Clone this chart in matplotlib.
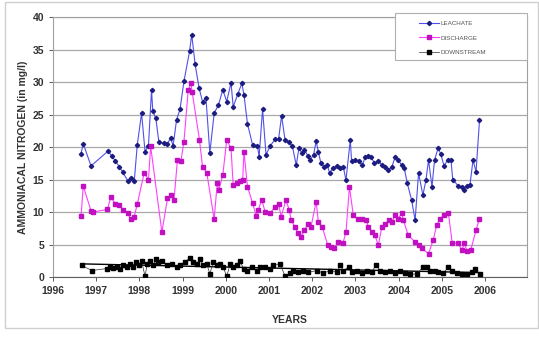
import numpy as np
import matplotlib
matplotlib.use('Agg')
import matplotlib.pyplot as plt
from matplotlib.patches import Rectangle

plt.rcParams['font.family'] = ['Liberation Sans', 'DejaVu Sans']

# leachate (decimal year, mg/l)
leach_yr = [1996.65, 1996.70, 1996.88, 1997.28, 1997.36, 1997.44, 1997.53, 1997.61, 1997.73, 1997.81,
            1997.88, 1997.95, 1998.05, 1998.13, 1998.21, 1998.28, 1998.31, 1998.38, 1998.45, 1998.57,
            1998.65, 1998.72, 1998.78, 1998.86, 1998.94, 1999.03, 1999.16, 1999.21, 1999.29, 1999.38,
            1999.46, 1999.54, 1999.63, 1999.73, 1999.83, 1999.93, 2000.02, 2000.12, 2000.17, 2000.28,
            2000.37, 2000.42, 2000.50, 2000.62, 2000.73, 2000.77, 2000.85, 2000.93, 2001.02, 2001.14,
            2001.22, 2001.29, 2001.37, 2001.46, 2001.54, 2001.63, 2001.69, 2001.76, 2001.82, 2001.90,
            2001.95, 2002.03, 2002.09, 2002.14, 2002.20, 2002.28, 2002.35, 2002.40, 2002.47, 2002.57,
            2002.64, 2002.72, 2002.78, 2002.88, 2002.91, 2002.99, 2003.08, 2003.16, 2003.22, 2003.30,
            2003.36, 2003.44, 2003.53, 2003.62, 2003.69, 2003.76, 2003.84, 2003.92, 2003.99, 2004.07,
            2004.13, 2004.20, 2004.30, 2004.38, 2004.46, 2004.56, 2004.63, 2004.69, 2004.77, 2004.83,
            2004.91, 2004.97, 2005.05, 2005.13, 2005.21, 2005.25, 2005.38, 2005.46, 2005.51, 2005.58,
            2005.65, 2005.72, 2005.79, 2005.87]
leach_val = [19.0, 20.5, 17.1, 19.4, 18.6, 17.9, 17.0, 16.2, 14.8, 15.2,
             14.7, 20.3, 25.2, 19.3, 20.2, 28.8, 25.5, 24.4, 20.8, 20.6,
             20.5, 21.4, 20.2, 24.2, 25.8, 30.1, 34.7, 37.3, 32.7, 29.1,
             27.0, 27.5, 19.1, 25.2, 26.5, 28.8, 27.0, 29.9, 26.2, 28.2,
             29.8, 28.0, 23.6, 20.3, 20.2, 18.5, 25.8, 18.8, 20.1, 21.2,
             21.2, 24.8, 21.1, 20.8, 20.1, 17.2, 19.8, 19.1, 19.6, 18.6,
             18.0, 18.8, 20.9, 19.3, 17.5, 16.9, 17.2, 16.0, 16.7, 17.1,
             16.7, 16.9, 14.9, 21.1, 17.8, 18.0, 17.8, 17.2, 18.4, 18.6,
             18.5, 17.5, 17.8, 17.2, 16.9, 16.5, 16.9, 18.5, 18.0, 17.2,
             16.7, 14.4, 11.8, 8.75, 16.0, 12.6, 14.9, 18.0, 13.9, 18.0,
             19.8, 19.0, 17.1, 18.0, 18.0, 15.0, 14.0, 13.8, 13.4, 14.0,
             14.2, 18.0, 16.2, 24.1]

# discharge
disch_yr = [1996.65, 1996.70, 1996.88, 1996.93, 1997.26, 1997.34, 1997.44, 1997.53, 1997.63, 1997.73,
            1997.80, 1997.88, 1997.95, 1998.11, 1998.21, 1998.26, 1998.52, 1998.65, 1998.73, 1998.80,
            1998.88, 1998.96, 1999.03, 1999.13, 1999.19, 1999.22, 1999.39, 1999.46, 1999.56, 1999.73,
            1999.80, 1999.84, 1999.93, 2000.02, 2000.12, 2000.17, 2000.25, 2000.33, 2000.39, 2000.42,
            2000.50, 2000.62, 2000.70, 2000.75, 2000.83, 2000.91, 2001.02, 2001.14, 2001.22, 2001.28,
            2001.39, 2001.47, 2001.51, 2001.60, 2001.66, 2001.74, 2001.82, 2001.90, 2001.97, 2002.09,
            2002.14, 2002.23, 2002.36, 2002.44, 2002.51, 2002.59, 2002.71, 2002.78, 2002.86, 2002.95,
            2003.05, 2003.16, 2003.25, 2003.30, 2003.39, 2003.45, 2003.53, 2003.61, 2003.69, 2003.78,
            2003.84, 2003.92, 2003.99, 2004.07, 2004.11, 2004.22, 2004.38, 2004.46, 2004.53, 2004.69,
            2004.80, 2004.88, 2004.96, 2005.06, 2005.15, 2005.24, 2005.38, 2005.46, 2005.52, 2005.58,
            2005.67, 2005.79, 2005.87]
disch_val = [9.4, 14.0, 10.2, 10.0, 10.4, 12.3, 11.3, 11.1, 10.3, 9.8,
             8.9, 9.3, 11.2, 16.0, 15.0, 20.1, 6.9, 12.1, 12.6, 11.8,
             18.0, 17.8, 20.8, 28.8, 29.8, 28.5, 21.1, 17.0, 16.0, 8.9,
             14.4, 13.4, 15.7, 21.1, 19.8, 14.2, 14.4, 14.7, 14.9, 19.3,
             13.9, 11.4, 9.4, 10.3, 11.9, 10.0, 9.8, 10.8, 11.3, 9.3,
             11.8, 10.3, 8.75, 7.7, 6.7, 6.2, 7.2, 8.2, 7.7, 11.6,
             8.5, 7.7, 4.9, 4.6, 4.4, 5.4, 5.2, 6.9, 13.9, 9.5,
             9.0, 8.9, 8.75, 7.7, 6.9, 6.4, 4.9, 7.7, 8.2, 8.75,
             8.5, 9.5, 9.0, 9.8, 8.75, 6.4, 5.4, 4.9, 4.4, 3.6,
             5.7, 8.0, 9.0, 9.5, 9.8, 5.2, 5.2, 4.1, 5.2, 4.0,
             4.2, 7.2, 9.0]

# downstream
down_yr = [1996.66, 1996.90, 1997.24, 1997.32, 1997.40, 1997.47, 1997.55, 1997.63, 1997.71, 1997.78,
           1997.86, 1997.92, 1998.00, 1998.05, 1998.13, 1998.18, 1998.25, 1998.32, 1998.38, 1998.44,
           1998.52, 1998.63, 1998.75, 1998.86, 1998.94, 1999.06, 1999.17, 1999.25, 1999.33, 1999.40,
           1999.48, 1999.56, 1999.63, 1999.71, 1999.79, 1999.87, 1999.94, 2000.02, 2000.10, 2000.17,
           2000.25, 2000.33, 2000.41, 2000.48, 2000.60, 2000.72, 2000.79, 2000.91, 2001.02, 2001.10,
           2001.25, 2001.37, 2001.49, 2001.56, 2001.68, 2001.79, 2001.91, 2002.10, 2002.26, 2002.41,
           2002.57, 2002.64, 2002.72, 2002.84, 2002.91, 2003.03, 2003.15, 2003.26, 2003.38, 2003.48,
           2003.57, 2003.69, 2003.80, 2003.92, 2004.03, 2004.15, 2004.26, 2004.42, 2004.56, 2004.65,
           2004.73, 2004.84, 2004.92, 2005.03, 2005.15, 2005.23, 2005.35, 2005.46, 2005.58, 2005.69,
           2005.77, 2005.88]
down_val = [1.8, 1.0, 1.3, 1.5, 1.4, 1.6, 1.3, 1.8, 1.5, 2.0,
            1.6, 2.3, 1.8, 2.5, 0.1, 2.0, 2.4, 1.8, 2.8, 2.3,
            2.4, 1.8, 2.0, 1.5, 1.9, 2.3, 3.0, 2.3, 2.0, 2.7,
            1.8, 2.0, 0.5, 2.3, 1.8, 2.0, 1.5, 0.1, 2.0, 1.5,
            1.8, 2.4, 1.3, 1.0, 1.5, 1.0, 1.5, 1.6, 1.3, 1.9,
            2.0, 0.2, 0.6, 1.0, 0.7, 1.0, 0.7, 1.0, 0.6, 1.0,
            0.8, 1.8, 1.0, 1.5, 0.8, 1.0, 0.6, 1.0, 0.8, 1.9,
            0.9, 0.8, 1.0, 0.6, 0.9, 0.6, 0.4, 0.5, 1.5, 1.5,
            1.0, 1.0, 0.8, 0.6, 1.5, 0.9, 0.6, 0.4, 0.5, 0.8,
            1.2, 0.5]

years = list(range(1996, 2007))
yticks = list(range(0, 41, 5))

fig = plt.figure(figsize=(5.39, 3.37), dpi=100)
# light outer frame like the exported chart
fig.patches.append(Rectangle((0.009, 0.027), 0.989, 0.966, transform=fig.transFigure,
                             fill=False, edgecolor='#cfcfcf', linewidth=1.0))
ax = fig.add_axes([0.0983, 0.178, 0.8795, 0.7715])

ax.plot(leach_yr, leach_val, color='#5050ea', lw=0.8, marker='D', ms=2.2,
        mfc='#1c1c80', mec='#1c1c80', label='LEACHATE', zorder=3)
ax.plot(disch_yr, disch_val, color='#ff40ff', lw=0.8, marker='s', ms=2.6,
        mfc='#c010c0', mec='#c010c0', label='DISCHARGE', zorder=3)
ax.plot(down_yr, down_val, color='#303030', lw=0.5, marker='s', ms=2.6,
        mfc='black', mec='black', label='DOWNSTREAM', zorder=3)

# linear trend through downstream
k, b = np.polyfit(down_yr, down_val, 1)
tx = np.array([down_yr[0], down_yr[-1]])
ax.plot(tx, k * tx + b, color='black', lw=1.0, zorder=2)

ax.set_xlim(1996, 2006.97)
ax.set_ylim(0, 40)
ax.set_xticks(years)
ax.set_yticks(yticks)
ax.grid(axis='y', color='#a8a8a8', lw=0.9)
ax.set_axisbelow(True)
for s in ax.spines.values():
    s.set_color('#a0a0a0')
    s.set_linewidth(0.8)
ax.spines['bottom'].set_color('#606060')
ax.tick_params(axis='both', labelsize=7.5, colors='#404040', length=3, width=0.6)
for lab in ax.get_xticklabels() + ax.get_yticklabels():
    lab.set_fontweight('bold')
    lab.set_color('#333333')

ax.set_ylabel('AMMONIACAL NITROGEN (in mg/l)', fontsize=7.5, fontweight='bold',
              color='#333333', labelpad=3)
ax.set_xlabel('YEARS', fontsize=7.5, fontweight='bold', color='#333333', labelpad=7)
ax.xaxis.set_label_coords(0.5, -0.145)

# legend frame is wider than its entries in the original
ax.add_patch(Rectangle((0.7215, 0.835), 0.2785, 0.18, transform=ax.transAxes,
                       facecolor='white', edgecolor='#b0b0b0', lw=0.8,
                       clip_on=False, zorder=4))
leg = ax.legend(loc='upper left', bbox_to_anchor=(0.757, 1.012), fontsize=4.5,
                frameon=False, handlelength=3.2, borderpad=0.6,
                labelspacing=1.45, handletextpad=0.3)
leg.set_zorder(5)
for t in leg.get_texts():
    t.set_color('#555555')

fig.savefig('out.png', dpi=100)
